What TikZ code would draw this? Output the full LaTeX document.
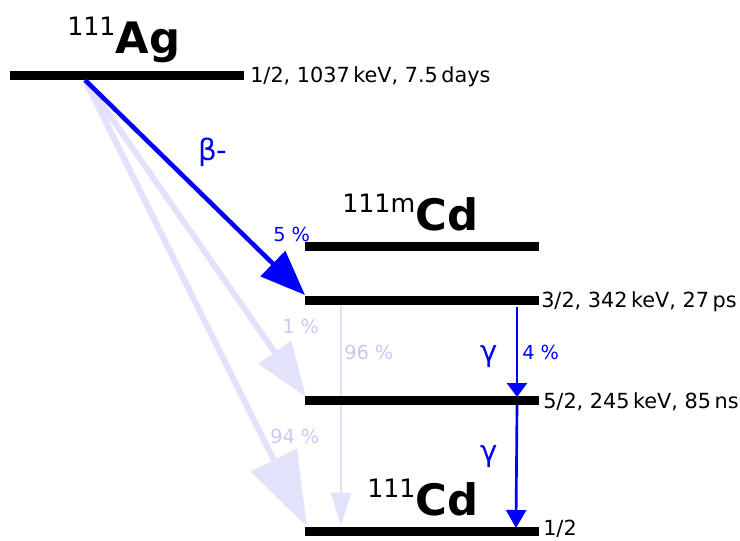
\documentclass[tikz,border=0pt]{standalone}
\usepackage{fontspec}
\setmainfont{DejaVu Sans}
\usetikzlibrary{arrows.meta}
\definecolor{mblue}{RGB}{0,0,255}
\definecolor{lightb}{RGB}{226,226,251}
\definecolor{lighttxt}{RGB}{200,200,245}
\newcommand\myiso[2]{\raisebox{13pt}{\fontsize{19}{19}\selectfont #1}{\fontsize{32.5}{33}\selectfont\bfseries #2}}
\begin{document}
\begin{tikzpicture}[x=0.75pt,y=-0.75pt,
  level/.style={line width=6.75pt, black},
  lvllabel/.style={anchor=base west, inner sep=0pt, font=\fontsize{15.6}{18}\selectfont},
  pct/.style={anchor=base west, inner sep=0pt, font=\fontsize{14.5}{16}\selectfont},
  greek/.style={anchor=base west, inner sep=0pt, font=\fontsize{22}{24}\selectfont, text=mblue},
  nuc/.style={anchor=base west, inner sep=0pt},
  lightarrow/.style={lightb, line width=4.5pt}]
\useasboundingbox (0,0) rectangle (740,540);

% level end points
\coordinate (agL) at (10,75.5);   \coordinate (agR) at (244,75.5);
\coordinate (mL) at (305,246.5);  \coordinate (mR) at (539,246.5);
\coordinate (aL) at (305,300);    \coordinate (aR) at (539,300);
\coordinate (bL) at (305,400.5);  \coordinate (bR) at (539,400.5);
\coordinate (gL) at (305,531.5);  \coordinate (gR) at (539,531.5);

% arrow end points
\coordinate (src) at (85,80);
\coordinate (ta) at (305,295);
\coordinate (tb) at (306,397);
\coordinate (tg) at (307,527);
\coordinate (va) at (341,305);
\coordinate (vg) at (341,526);
\coordinate (g1s) at (517,307);
\coordinate (g1e) at (517,397);
\coordinate (g2s) at (517,405);
\coordinate (g2e) at (516,528);

% faint transitions
\draw[lightarrow, -{Triangle[length=41pt,width=29pt]}] (src) -- (tb);
\draw[lightarrow, -{Triangle[length=56pt,width=37.5pt]}] (src) -- (tg);
\draw[lightb, line width=1.5pt, -{Triangle[length=25pt,width=15pt]}] (va) -- (vg);

% levels
\draw[level] (agL) -- (agR);
\draw[level] (mL) -- (mR);
\draw[level] (aL) -- (aR);
\draw[level] (bL) -- (bR);
\draw[level] (gL) -- (gR);

% strong transitions
\draw[mblue, line width=3.4pt, -{Triangle[length=33.75pt,width=26pt]}] (src) -- (ta);
\draw[mblue, line width=2pt, -{Triangle[length=10.5pt,width=15pt]}] (g1s) -- (g1e);
\draw[mblue, line width=2pt, -{Triangle[length=13.5pt,width=15pt]}] (g2s) -- (g2e);

% nuclide names
\node[nuc] (ag) at (67,53) {\myiso{111}{Ag}};
\node[nuc] (cdm) at (342,230) {\myiso{111m}{Cd}};
\node[nuc] (cd) at (367,515) {\myiso{111}{Cd}};

% level labels
\node[lvllabel] (lag) at (250,82) {1/2, 1037\,keV, 7.5\,days};
\node[lvllabel] (la) at (541,307) {3/2, 342\,keV, 27\,ps};
\node[lvllabel] (lb) at (543,408) {5/2, 245\,keV, 85\,ns};
\node[lvllabel] (lg) at (543,535) {1/2};

% transition labels
\node[greek] (beta) at (198,160) {β-};
\node[greek] (gam1) at (480,361) {γ};
\node[greek] (gam2) at (480,461) {γ};
\node[pct, text=mblue] (p5) at (273,241) {5 \%};
\node[pct, text=mblue] (p4) at (522,359) {4 \%};
\node[pct, text=lighttxt] (p1) at (282,333) {1 \%};
\node[pct, text=lighttxt] (p96) at (344,359) {96 \%};
\node[pct, text=lighttxt] (p94) at (270,443) {94 \%};
\end{tikzpicture}
\end{document}
